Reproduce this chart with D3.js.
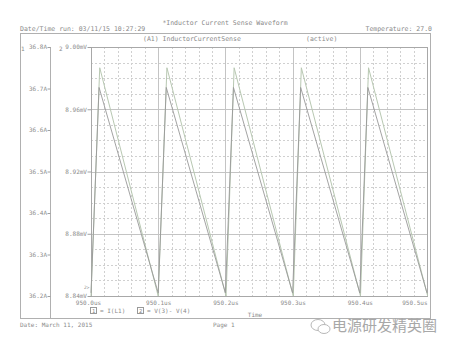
<!DOCTYPE html>
<html>
<head>
<meta charset="utf-8">
<script src="https://cdn.jsdelivr.net/npm/d3@7"></script>
<style>
  body { margin: 0; background: #fff; }
  text { font-family: "DejaVu Sans Mono", monospace; fill: #8a8a8a; }
</style>
</head>
<body>
<svg width="450" height="348"></svg>
<script>
// time in us (offset from 950.0us)
var timeTicks = [0, 0.1, 0.2, 0.3, 0.4, 0.5];
var timeLabels = ["950.0us", "950.1us", "950.2us", "950.3us", "950.4us", "950.5us"];
var ampTicks = [36.2, 36.3, 36.4, 36.5, 36.6, 36.7, 36.8];
var mvTicks = [8.84, 8.88, 8.92, 8.96, 9.00];

// I(L1) sawtooth
var iTimes = [0.000, 0.013, 0.100, 0.113, 0.201, 0.213, 0.301, 0.313, 0.401, 0.413, 0.501];
var iValues = [36.20, 36.75, 36.20, 36.75, 36.20, 36.75, 36.20, 36.75, 36.20, 36.75, 36.20];

// V(3)-V(4), mV
var vTimes = [0.000, 0.012, 0.100, 0.112, 0.200, 0.212, 0.300, 0.312, 0.400, 0.412, 0.500];
var vValues = [8.842, 8.974, 8.842, 8.974, 8.842, 8.974, 8.842, 8.974, 8.842, 8.974, 8.842];

(function() {
  var svg = d3.select("svg");
  var pL = 91, pR = 427, pT = 47, pB = 296;

  var x = d3.scaleLinear().domain([0, 0.5]).range([pL, pR]);
  var yA = d3.scaleLinear().domain([36.2, 36.8]).range([pB, pT]);
  var yV = d3.scaleLinear().domain([8.84, 9.00]).range([pB, pT]);

  // header text
  svg.append("text").attr("x", 225).attr("y", 25).attr("text-anchor", "middle")
    .style("font-size", "6.5px").text("*Inductor Current Sense Waveform");
  svg.append("text").attr("x", 20).attr("y", 31).style("font-size", "6.5px")
    .text("Date/Time run: 03/11/15 10:27:29");
  svg.append("text").attr("x", 432).attr("y", 31).attr("text-anchor", "end")
    .style("font-size", "6.5px").text("Temperature: 27.0");

  // outer box
  svg.append("rect").attr("x", 20.5).attr("y", 33.5).attr("width", 410).attr("height", 285)
    .attr("fill", "none").attr("stroke", "#b0b0b0");
  svg.append("text").attr("x", 143).attr("y", 41).style("font-size", "6.5px")
    .text("(A1) InductorCurrentSense");
  svg.append("text").attr("x", 306).attr("y", 41).style("font-size", "6.5px").text("(active)");

  // grid
  function isMajor(d) { return Math.abs(d * 10 - Math.round(d * 10)) < 1e-6; }
  var g = svg.append("g");
  g.selectAll("line.vg").data(d3.range(1, 25).map(function(i) { return i * 0.02; }))
    .enter().append("line")
    .attr("x1", function(d) { return Math.round(x(d)) + 0.5; })
    .attr("x2", function(d) { return Math.round(x(d)) + 0.5; })
    .attr("y1", pT).attr("y2", pB)
    .attr("stroke", function(d) { return isMajor(d) ? "#c4c4c4" : "#d0d0d0"; })
    .attr("stroke-dasharray", function(d) { return isMajor(d) ? null : "2,2"; });

  g.selectAll("line.hg").data(d3.range(1, 16).map(function(i) { return 8.84 + i * 0.01; }))
    .enter().append("line")
    .attr("y1", function(d) { return Math.round(yV(d)) + 0.5; })
    .attr("y2", function(d) { return Math.round(yV(d)) + 0.5; })
    .attr("x1", pL).attr("x2", pR)
    .attr("stroke", function(d, i) { return (i + 1) % 4 === 0 ? "#c4c4c4" : "#d0d0d0"; })
    .attr("stroke-dasharray", function(d, i) { return (i + 1) % 4 === 0 ? null : "2,2"; });

  svg.append("rect").attr("x", pL + 0.5).attr("y", pT + 0.5)
    .attr("width", pR - pL).attr("height", pB - pT)
    .attr("fill", "none").attr("stroke", "#a8a8a8");

  // left axis 1 (current)
  svg.append("line").attr("x1", 50.5).attr("x2", 50.5).attr("y1", pT).attr("y2", pB + 22)
    .attr("stroke", "#b0b0b0");
  var axA = svg.append("g").attr("transform", "translate(50.5,0)")
    .call(d3.axisLeft(yA).tickValues(ampTicks).tickSize(3).tickFormat(function(d) { return d.toFixed(1) + "A"; }));
  axA.select(".domain").remove();
  axA.selectAll("line").attr("stroke", "#a0a0a0");
  axA.selectAll("text").style("font-size", "6px").style("font-family", null).attr("x", -3.5);
  svg.append("text").attr("x", 21).attr("y", 51).style("font-size", "6px").text("1");

  // left axis 2 (mV)
  var axV = svg.append("g").attr("transform", "translate(" + (pL + 0.5) + ",0)")
    .call(d3.axisLeft(yV).tickValues(mvTicks).tickSize(4).tickFormat(function(d) { return d.toFixed(2) + "mV"; }));
  axV.select(".domain").remove();
  axV.selectAll("line").attr("stroke", "#a0a0a0");
  axV.selectAll("text").style("font-size", "6px").attr("x", -4.5);
  svg.append("text").attr("x", 59).attr("y", 51).style("font-size", "6px").text("2");

  // bottom axis
  var axX = svg.append("g").attr("transform", "translate(0," + (pB + 0.5) + ")")
    .call(d3.axisBottom(x).tickValues(timeTicks).tickSize(0).tickFormat(function(d, i) { return timeLabels[i]; }));
  axX.select(".domain").remove();
  axX.selectAll("text").style("font-size", "6px").attr("y", 4.5);
  axX.selectAll("text").filter(function(d, i) { return i === timeTicks.length - 1; })
    .attr("text-anchor", "end");
  axX.selectAll("text").filter(function(d, i) { return i === 0; }).attr("dx", "-3");

  svg.append("text").attr("x", 255).attr("y", 317).attr("text-anchor", "middle")
    .style("font-size", "6px").text("Time");

  // traces
  var lineI = d3.line().x(function(d) { return x(d[0]); }).y(function(d) { return yA(d[1]); });
  var lineV = d3.line().x(function(d) { return x(d[0]); }).y(function(d) { return yV(d[1]); });
  svg.append("path").datum(d3.zip(iTimes, iValues)).attr("d", lineI)
    .attr("fill", "none").attr("stroke", "#b8c8b2").attr("stroke-width", 1);
  svg.append("path").datum(d3.zip(vTimes, vValues)).attr("d", lineV)
    .attr("fill", "none").attr("stroke", "#999").attr("stroke-width", 0.9);
  svg.append("text").attr("x", 84).attr("y", 289).style("font-size", "4.5px").text("2>");

  // legend
  var leg = svg.append("g").attr("transform", "translate(90,307)");
  leg.append("rect").attr("x", 0.5).attr("y", 0.5).attr("width", 6).attr("height", 6)
    .attr("fill", "none").attr("stroke", "#999");
  leg.append("text").attr("x", 2).attr("y", 6).style("font-size", "5.5px").text("1");
  leg.append("text").attr("x", 10).attr("y", 6).style("font-size", "6px").text("= I(L1)");
  leg.append("rect").attr("x", 47.5).attr("y", 0.5).attr("width", 6).attr("height", 6)
    .attr("fill", "none").attr("stroke", "#999");
  leg.append("text").attr("x", 49).attr("y", 6).style("font-size", "5.5px").text("2");
  leg.append("text").attr("x", 57).attr("y", 6).style("font-size", "6px").text("= V(3)- V(4)");

  // footer
  svg.append("text").attr("x", 20).attr("y", 327).style("font-size", "6px").text("Date: March 11, 2015");
  svg.append("text").attr("x", 213).attr("y", 327).style("font-size", "6px").text("Page 1");

  // watermark
  var wm = svg.append("g").attr("transform", "translate(318,325)");
  wm.append("ellipse").attr("cx", 0).attr("cy", 0).attr("rx", 7).attr("ry", 5.5)
    .attr("fill", "#fff").attr("stroke", "#b8b8b8");
  wm.append("ellipse").attr("cx", 6).attr("cy", 4).attr("rx", 6).attr("ry", 4.5)
    .attr("fill", "#fff").attr("stroke", "#b8b8b8");
  svg.append("text").attr("x", 332).attr("y", 331).style("font-family", "'Noto Sans CJK SC'")
    .style("font-size", "15px").style("fill", "#a8a8a8").text("电源研发精英圈");
})();
</script>
</body>
</html>
